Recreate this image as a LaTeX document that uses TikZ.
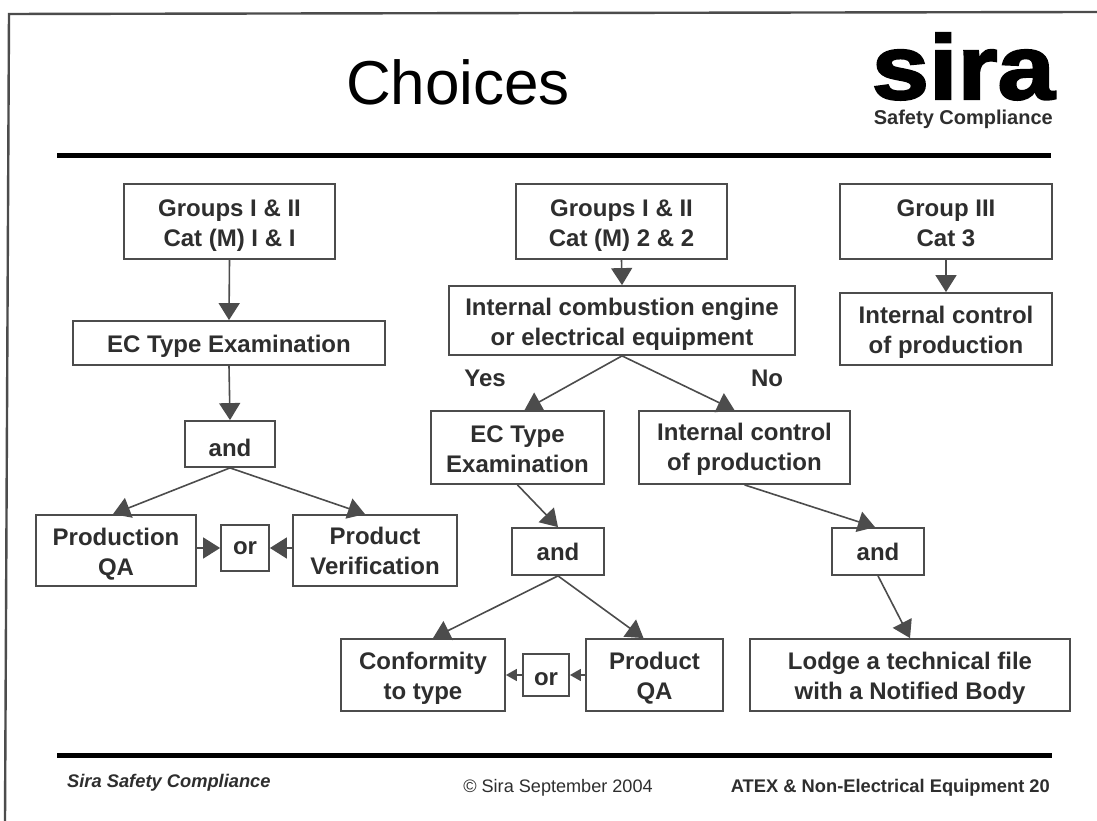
\documentclass[tikz,border=0pt]{standalone}
\usepackage{fontspec}
\setmainfont{Liberation Sans}
\newfontfamily\logofont[FakeBold=2.5,FakeStretch=1.13]{Liberation Sans Bold}
\newcommand{\boxstrut}{\rule{0pt}{24.5pt}}
\newcommand{\lowstrut}{\rule{0pt}{21pt}}
\usetikzlibrary{arrows.meta}
\begin{document}
\begin{tikzpicture}[x=1pt,y=1pt,
	flowbox/.style={draw=drawColor,line width=1.8pt,inner sep=0pt,align=center,text=textColor,font=\fontsize{24}{30}\selectfont\bfseries},
	flowline/.style={draw=drawColor,line width=1.6pt,-{Triangle[length=17pt,width=21pt]}},
	smallline/.style={draw=drawColor,line width=1.6pt,-{Triangle[length=11pt,width=12pt]}},
	rule/.style={draw=black,line width=5pt},
	yesno/.style={inner sep=0pt,text=textColor,font=\fontsize{24}{30}\selectfont\bfseries}]
\definecolor{fillColor}{RGB}{255,255,255}
\definecolor{drawColor}{gray}{0.30}
\definecolor{textColor}{gray}{0.18}
\path[use as bounding box,fill=fillColor] (0,0) rectangle (1097,821);

\path[draw=drawColor,line width=2.4pt] (1097,809) -- (9,807) -- (5,0);
\path[rule] (57,665) -- (1051,665);
\path[rule] (57,65) -- (1052,65);

\node[inner sep=0pt,anchor=base,font=\fontsize{62}{62}\selectfont,text=black] (title) at (458,716) {Choices};
\node[inner sep=0pt,anchor=base east,font=\fontsize{91}{91}\logofont,text=black] (logo) at (1055,722) {sira};
\node[inner sep=0pt,anchor=base east,font=\fontsize{20}{20}\selectfont\bfseries,text=textColor] (logosub) at (1053,696) {Safety Compliance};

\node[flowbox,minimum width=211pt,minimum height=75pt] (groupsA) at (229.5,599.5) {\boxstrut Groups I \& II\\Cat (M) I \& I};
\node[flowbox,minimum width=312pt,minimum height=44pt] (typeA) at (229,478) {\boxstrut EC Type Examination};
\node[flowbox,minimum width=90pt,minimum height=46pt] (andA) at (230,377) {\boxstrut and};
\node[flowbox,minimum width=160pt,minimum height=71pt] (prodqa) at (116,270.5) {\boxstrut Production\\QA};
\node[flowbox,minimum width=48pt,minimum height=46pt] (orA) at (245,273) {or};
\node[flowbox,minimum width=164pt,minimum height=71pt] (verif) at (375,270.5) {Product\\Verification};

\node[flowbox,minimum width=211pt,minimum height=75pt] (groupsB) at (621.5,599.5) {\boxstrut Groups I \& II\\Cat (M) 2 \& 2};
\node[flowbox,minimum width=346pt,minimum height=69pt] (engine) at (622,500.5) {\boxstrut Internal combustion engine\\or electrical equipment};
\node[flowbox,minimum width=173pt,minimum height=73pt] (typeB) at (517.5,373.5) {\lowstrut EC Type\\Examination};
\node[flowbox,minimum width=211pt,minimum height=73pt] (controlB) at (744.5,373.5) {\lowstrut Internal control\\of production};
\node[flowbox,minimum width=92pt,minimum height=47pt] (andB) at (558,269.5) {and};
\node[flowbox,minimum width=92pt,minimum height=47pt] (andC) at (878,269.5) {and};
\node[flowbox,minimum width=164pt,minimum height=72pt] (conform) at (423,146) {\boxstrut Conformity\\to type};
\node[flowbox,minimum width=46pt,minimum height=42pt] (orB) at (546,146) {\lowstrut or};
\node[flowbox,minimum width=137pt,minimum height=72pt] (productqa) at (654.5,146) {\boxstrut Product\\QA};
\node[flowbox,minimum width=320pt,minimum height=72pt] (lodge) at (910,146) {\boxstrut Lodge a technical file\\with a Notified Body};

\node[flowbox,minimum width=212pt,minimum height=75pt] (groupC) at (946,599.5) {\lowstrut Group III\\Cat 3};
\node[flowbox,minimum width=212pt,minimum height=72pt] (controlC) at (946,492) {\boxstrut Internal control\\of production};

\node[yesno,anchor=base] (yes) at (485,434) {Yes};
\node[yesno,anchor=base] (no) at (767,434) {No};

\path[flowline] (groupsA.south) -- (typeA.north);
\path[flowline] (typeA.south) -- (andA.north);
\path[flowline] (andA.south) -- ([xshift=-3pt]prodqa.north);
\path[flowline] (andA.south) -- ([xshift=-10pt]verif.north);
\path[flowline] (prodqa.east |- orA.west) -- (orA.west);
\path[flowline] (verif.west |- orA.east) -- (orA.east);

\path[flowline] (groupsB.south) -- (engine.north);
\path[flowline] (engine.south) -- ([xshift=7pt]typeB.north);
\path[flowline] (engine.south) -- ([xshift=-10pt]controlB.north);
\path[flowline] (typeB.south) -- (andB.north);
\path[flowline] (controlB.south) -- ([xshift=-3pt]andC.north);
\path[flowline] (andB.south) -- ([xshift=10pt]conform.north);
\path[flowline] (andB.south) -- ([xshift=-11pt]productqa.north);
\path[flowline] (andC.south) -- (lodge.north);
\path[smallline] (orB.west) -- (conform.east);
\path[smallline] (productqa.west) -- (orB.east);

\path[flowline] (groupC.south) -- (controlC.north);

\node[inner sep=0pt,anchor=base west,font=\fontsize{18.3}{19}\selectfont\bfseries\itshape,text=textColor] (footleft) at (67,33) {Sira Safety Compliance};
\node[inner sep=0pt,anchor=base,font=\fontsize{18.1}{19}\selectfont,text=textColor] (footmid) at (558,28) {\textcopyright\ Sira September 2004};
\node[inner sep=0pt,anchor=base east,font=\fontsize{18.3}{19}\selectfont\bfseries,text=textColor] (footright) at (1050,28) {ATEX \& Non-Electrical Equipment 20};
\end{tikzpicture}
\end{document}
